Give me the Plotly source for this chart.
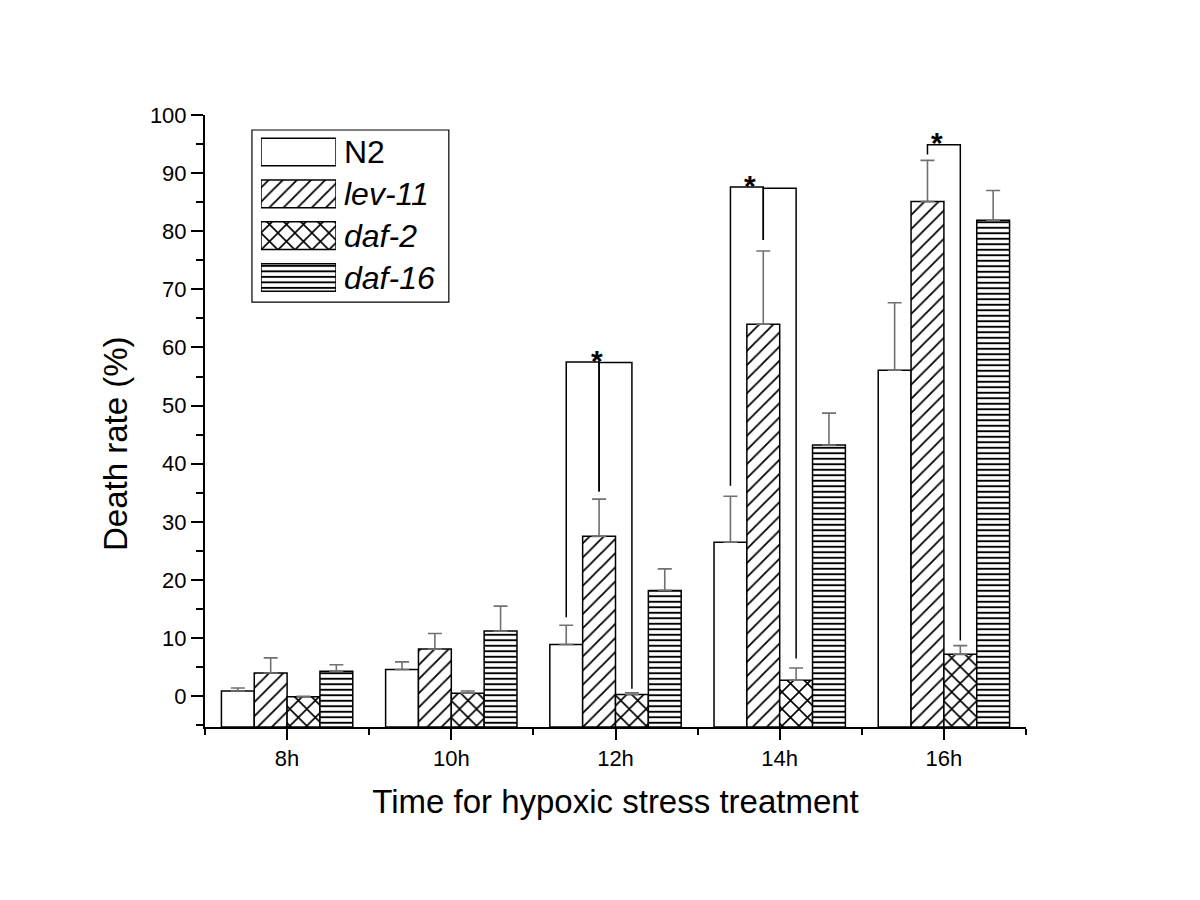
import numpy as np
import plotly.graph_objects as go

# data
times = ["8h", "10h", "12h", "14h", "16h"]
strains = ["N2", "lev-11", "daf-2", "daf-16"]

n2 = [0.9, 4.6, 8.9, 26.5, 56.1]
lev11 = [4.0, 8.1, 27.5, 64.0, 85.1]
daf2 = [-0.1, 0.5, 0.3, 2.75, 7.2]
daf16 = [4.3, 11.2, 18.2, 43.2, 81.9]

n2_err = [0.5, 1.3, 3.3, 7.9, 11.6]
lev11_err = [2.6, 2.7, 6.4, 12.6, 7.1]
daf2_err = [0.1, 0.4, 0.3, 2.1, 1.5]
daf16_err = [1.1, 4.3, 3.7, 5.5, 5.1]

# significance brackets: (time index, left strain, right strain)
bracket_time = [2, 2, 3, 3, 4]
bracket_left = [0, 1, 0, 1, 1]
bracket_right = [1, 2, 1, 2, 2]
bracket_top = [57.5, 57.4, 87.6, 87.4, 94.9]
bracket_leg_left = [13.6, 35.2, 36.2, 78.5, 93.2]
bracket_leg_right = [35.2, 1.3, 78.5, 6.5, 9.6]
star_x = [1.885, 2.82, 3.96]
star_y = [57.5, 87.6, 94.9]

values = [n2, lev11, daf2, daf16]
errors = [n2_err, lev11_err, daf2_err, daf16_err]
patterns = ["", "/", "x", "-"]
pat_size = [8, 10, 12, 5.5]
pat_solid = [0.1, 0.18, 0.25, 0.35]

FONT = "Arial, Liberation Sans, sans-serif"
Y_MIN, Y_MAX = -5.3, 100
BARGAP = 0.2
bar_w = (1 - BARGAP) / 4
offsets = [(i - 1.5) * bar_w for i in range(4)]
xpos = np.arange(len(times))

fig = go.Figure()

# bars (start at axis bottom like Origin)
for i, s in enumerate(strains):
    v = np.array(values[i])
    fig.add_trace(go.Bar(
        x=xpos, y=v - Y_MIN, base=Y_MIN, name=s,
        marker=dict(color="white", line=dict(color="black", width=1.5),
                    pattern=dict(shape=patterns[i], fgcolor="black", bgcolor="white",
                                 fgopacity=1, size=pat_size[i], solidity=pat_solid[i])),
        showlegend=False,
    ))

# error bars (upward only)
for i, s in enumerate(strains):
    fig.add_trace(go.Scatter(
        x=xpos + offsets[i], y=values[i], mode="markers",
        marker=dict(size=1, opacity=0),
        error_y=dict(type="data", symmetric=False, array=errors[i],
                     arrayminus=[0] * len(times), color="#707070", thickness=1.6, width=7),
        showlegend=False, hoverinfo="skip",
    ))

# significance brackets
for k in range(len(bracket_time)):
    xl = bracket_time[k] + offsets[bracket_left[k]]
    xr = bracket_time[k] + offsets[bracket_right[k]]
    fig.add_trace(go.Scatter(
        x=[xl, xl, xr, xr],
        y=[bracket_leg_left[k], bracket_top[k], bracket_top[k], bracket_leg_right[k]],
        mode="lines", line=dict(color="black", width=1.5),
        showlegend=False, hoverinfo="skip",
    ))

for sx, sy in zip(star_x, star_y):
    fig.add_annotation(x=sx, y=sy, text="<b>*</b>", showarrow=False, yanchor="middle", yshift=2,
                       font=dict(family=FONT, size=30, color="black"))

# legend drawn as an inset with large pattern swatches
fig.add_trace(go.Bar(
    x=[1] * 4, y=list(range(4)), base=0, orientation="h", width=0.66,
    xaxis="x2", yaxis="y2", showlegend=False, hoverinfo="skip",
    marker=dict(color="white", line=dict(color="black", width=1.5),
                pattern=dict(shape=patterns, fgcolor="black", bgcolor="white",
                             fgopacity=1, size=pat_size, solidity=pat_solid)),
))
for i, s in enumerate(strains):
    label = s if i == 0 else "<i>%s</i>" % s
    fig.add_annotation(x=0.167, xref="paper", y=i, yref="y2", text=label,
                       showarrow=False, xanchor="left", yanchor="middle",
                       font=dict(family=FONT, size=32, color="black"))
fig.add_shape(type="rect", xref="paper", yref="paper",
              x0=0.0572, x1=0.297, y0=0.6944, y1=0.9755,
              line=dict(color="black", width=1.2), fillcolor="rgba(0,0,0,0)")

# y-axis title
fig.add_annotation(x=-0.1096, xref="paper", y=0.4624, yref="paper", text="Death rate (%)",
                   textangle=-90, showarrow=False, xanchor="center", yanchor="middle",
                   font=dict(family=FONT, size=33, color="black"))

fig.update_layout(
    width=1200, height=900,
    margin=dict(l=197, r=182, t=107, b=181),
    paper_bgcolor="white", plot_bgcolor="white",
    barmode="group", bargap=BARGAP, bargroupgap=0,
    font=dict(family=FONT, color="black"),
    xaxis=dict(
        range=[-0.5, 4.5], tickvals=list(xpos), ticktext=times,
        showline=True, linecolor="black", linewidth=2, mirror=False,
        ticks="outside", ticklen=11, tickwidth=2, tickcolor="black",
        minor=dict(tickvals=[-0.5, 0.5, 1.5, 2.5, 3.5, 4.5], ticks="outside",
                   ticklen=6, tickwidth=2, tickcolor="black"),
        showgrid=False, zeroline=False,
        tickfont=dict(family=FONT, size=22, color="black"),
        title=dict(text="Time for hypoxic stress treatment", standoff=19,
                   font=dict(family=FONT, size=33, color="black")),
    ),
    yaxis=dict(
        range=[Y_MIN, Y_MAX], tickvals=list(range(0, 101, 10)),
        showline=True, linecolor="black", linewidth=2,
        ticks="outside", ticklen=12, tickwidth=2, tickcolor="black",
        minor=dict(tickvals=list(range(-5, 100, 10)), ticks="outside",
                   ticklen=7, tickwidth=2, tickcolor="black"),
        showgrid=False, zeroline=False,
        tickfont=dict(family=FONT, size=22, color="black"),
    ),
    xaxis2=dict(domain=[0.0682, 0.1596], range=[0, 1], anchor="y2", visible=False,
                fixedrange=True),
    yaxis2=dict(domain=[0.7003, 0.9737], range=[3.5, -0.5], anchor="x2", visible=False,
                fixedrange=True),
)

fig.write_html("out.html")
